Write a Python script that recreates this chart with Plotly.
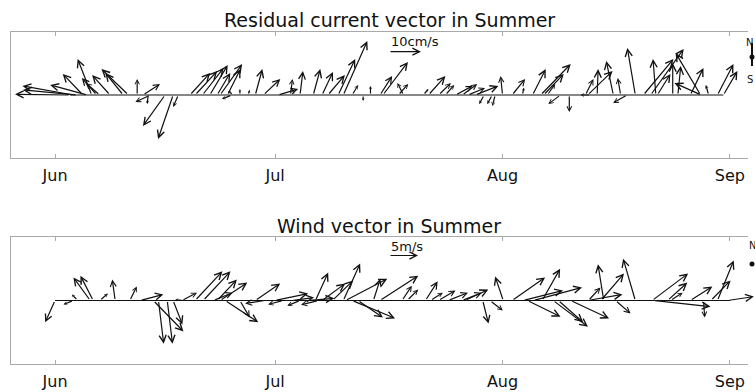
import math
import plotly.graph_objects as go

# ---- data -------------------------------------------------------------
# Residual current: day of year, east (u) and north (v) components, cm/s
cur_day = [154.05, 154.5, 155.0, 155.8, 156.4, 157.0, 157.7, 158.1, 159.5, 161.3,
           162.0, 163.2, 164.0, 164.7, 165.0, 167.0, 168.1, 168.8, 170.4, 171.1,
           172.1, 173.1, 174.1, 174.5, 175.5, 176.1, 176.3, 177.2, 178.3, 179.3,
           180.4, 182.4, 184.1, 184.7, 185.4, 187.2, 188.4, 189.2, 190.6, 191.3,
           192.5, 194.0, 195.0, 196.3, 196.7, 198.8, 199.5, 202.2, 202.9, 204.3,
           205.2, 206.6, 207.5, 208.3, 209.3, 210.5, 211.6, 212.0, 213.0, 214.3,
           215.7, 217.1, 218.2, 218.6, 219.1, 220.9, 222.1, 224.3, 224.6, 225.0,
           225.9, 228.1, 229.1, 230.0, 231.1, 232.2, 233.2, 233.9, 234.1, 236.2,
           236.9, 238.6, 240.0, 240.1, 241.1, 242.3, 243.1]
cur_u = [-17.2, -15.9, -16.9, -6.3, -11.6, -4.4, -4.7, -4.4, -5.6, -5.6,
         -8.4, 0.0, 5.3, -0.3, -4.7, -6.9, -4.7, -1.6, 6.3, 6.9,
         6.6, 5.6, 4.1, 6.9, 4.1, -3.1, -1.6, 0.0, 0.6, 2.2,
         5.3, 6.3, 0.6, -1.3, 0.9, 2.2, 3.4, 5.3, 5.3, 7.5,
         1.9, 0.0, 0.0, 3.8, 7.8, 3.1, -1.9, 1.6, 5.3, 3.8,
         2.8, 5.3, 4.7, 5.3, 7.2, -1.6, -1.6, -0.9, -0.6, 4.1,
         0.5, 4.1, 9.4, 6.3, 2.5, -3.8, 0.0, 2.5, 7.8, -3.1,
         0.3, -2.2, -0.9, -4.4, -2.5, 9.4, 10.3, -0.9, 4.1, 0.0,
         0.9, 4.1, -7.8, -8.4, -0.9, 5.0, 4.4]
cur_v = [0.3, 3.8, 2.1, 8.8, 4.2, 15.0, 7.1, 5.0, 8.3, 9.2,
         10.8, 6.7, 4.6, -3.8, -2.9, -12.9, -18.3, -5.0, 9.2, 10.0,
         11.3, 12.5, 9.2, 12.9, 10.8, -1.7, 1.7, 2.5, 2.1, 10.8,
         6.7, 2.5, 6.7, 3.3, 10.0, 10.8, 9.6, 8.3, 15.0, 22.5,
         4.2, -2.5, 3.8, 7.9, 13.8, 4.6, 5.0, 2.5, 7.9, 5.0,
         4.2, 3.8, 4.6, 2.9, 3.8, -3.8, -3.8, -4.6, 7.9, 6.7,
         3.0, 10.8, 12.9, 8.8, 4.6, -3.8, -7.1, 6.7, 10.0, 0.0,
         10.8, 14.2, 7.1, -3.3, 19.6, 15.0, 19.2, 15.0, 8.8, 13.3,
         12.1, 11.3, 17.5, 5.0, 4.2, 12.9, 10.0]

# Wind: day of year, east (u) and north (v) components, m/s
wind_day = [152.0, 154.5, 155.1, 156.8, 157.2, 158.1, 160.2, 161.5, 162.2, 163.6,
            165.4, 166.1, 167.3, 168.1, 169.3, 169.5, 171.1, 172.2, 173.6, 174.1,
            174.5, 175.2, 177.2, 179.3, 180.6, 182.0, 183.1, 184.3, 185.4, 186.5,
            187.5, 187.9, 188.4, 189.8, 191.3, 191.6, 192.5, 193.3, 195.4, 196.3,
            199.3, 200.0, 202.5, 203.2, 204.3, 205.6, 207.5, 207.9, 210.3, 211.3,
            213.1, 214.3, 215.8, 216.4, 217.2, 218.4, 219.9, 220.6, 222.3, 224.6,
            224.7, 226.4, 226.8, 228.4, 231.1, 233.4, 233.6, 235.5, 235.9, 238.6,
            240.4, 241.4, 242.3, 243.7]
wind_u = [-1.7, -1.7, -1.0, -2.9, -2.2, 1.4, -0.5, 0.2, 1.2, 4.0,
          5.2, 0.9, 0.9, 1.6, 2.6, -1.4, 4.7, 4.7, 3.3, 3.4,
          4.7, 5.7, 1.7, 4.3, -3.4, 5.7, -2.6, 3.8, -2.2, 4.5,
          2.2, -3.0, 4.0, 3.6, 2.9, 7.2, 7.4, 4.3, 1.2, 6.6,
          1.7, 1.9, 2.1, 2.1, 2.9, 3.4, 3.4, 4.0, 1.0, 2.2,
          -1.4, 5.7, 6.9, 5.7, 8.4, 3.1, 6.0, 4.3, 6.6, 6.0,
          2.1, 4.0, -1.0, 2.6, -2.1, 6.2, 9.8, 3.4, 2.1, 3.8,
          0.2, 3.4, 2.8, 4.5]
wind_v = [-5.0, -0.9, 1.4, 5.3, 5.7, 1.6, 4.8, -0.2, 3.2, 1.4,
          -7.1, -9.9, -9.9, -5.5, 1.8, 0.2, 6.7, 6.7, 1.8, 4.8,
          4.1, -5.0, -3.9, 3.9, -0.7, 1.6, -0.9, 0.7, -1.2, 0.5,
          6.4, -1.0, 3.9, 4.6, 8.5, 5.0, -4.1, -3.9, 5.0, 5.7,
          3.4, 2.5, 4.4, 1.8, 2.3, 1.8, 1.8, 2.5, -5.3, -2.3,
          5.5, 5.3, 2.3, -3.7, 3.0, 7.3, -6.0, -5.0, -4.1, 1.4,
          3.0, 6.2, 8.3, -3.0, 9.6, 6.2, -1.4, 4.1, 1.8, 3.2,
          -3.9, 4.6, 9.2, 0.9]

month_ticks = [152, 182, 213, 244]
month_labels = ["Jun", "Jul", "Aug", "Sep"]

cur_ref = 10      # reference arrow, cm/s
wind_ref = 5      # reference arrow, m/s

# ---- layout geometry --------------------------------------------------
W, H = 755, 392
ML, MR, MT, MB = 11, 7, 32, 28
plot_w = W - ML - MR
plot_h = H - MT - MB
x_range = [146.0, 246.46]
px_per_day = plot_w / (x_range[1] - x_range[0])

top_dom = [(H - MB - 158) / plot_h, 1.0]
bot_dom = [0.0, (H - MB - 237) / plot_h]
top_h = (top_dom[1] - top_dom[0]) * plot_h
bot_h = (bot_dom[1] - bot_dom[0]) * plot_h

# stick scaling: pixels per unit horizontally / vertically
cur_px_u, cur_px_v = 3.2, 2.4
wind_px_u, wind_px_v = 5.8, 4.36
cur_yr = top_h / 2 / cur_px_v
wind_yr = bot_h / 2 / wind_px_v

FONT = "DejaVu Sans"
INK = "#111111"
AX = "#a9a9a9"


def px_to_paper(px, py):
    return (px - ML) / plot_w, (H - MB - py) / plot_h


def sticks(days, u, v, xr, yr, px_u, px_v):
    days_per_unit = px_u / px_per_day
    out = []
    for t, uu, vv in zip(days, u, v):
        length = math.hypot(uu * px_u, vv * px_v)
        head = min(7.5, max(2.4, 0.3 * length))
        out.append(dict(
            x=t + uu * days_per_unit, y=vv, ax=t, ay=0,
            xref=xr, yref=yr, axref=xr, ayref=yr,
            text="", showarrow=True, arrowhead=5,
            arrowsize=max(0.3, head / 6.5), arrowwidth=1.2,
            arrowcolor=INK, standoff=0, startstandoff=0))
    return out


fig = go.Figure()

# zero lines the vectors hang from
fig.add_trace(go.Scatter(x=[cur_day[0], cur_day[-1]], y=[0, 0], mode="lines",
                         line=dict(color=INK, width=1.2), xaxis="x", yaxis="y",
                         hoverinfo="skip", showlegend=False))
fig.add_trace(go.Scatter(x=[month_ticks[0], month_ticks[-1]], y=[0, 0], mode="lines",
                         line=dict(color=INK, width=1.2), xaxis="x2", yaxis="y2",
                         hoverinfo="skip", showlegend=False))

ann = []
ann += sticks(cur_day, cur_u, cur_v, "x", "y", cur_px_u, cur_px_v)
ann += sticks(wind_day, wind_u, wind_v, "x2", "y2", wind_px_u, wind_px_v)

# reference arrows with their labels
ref_day = x_range[0] + (389 - ML) / px_per_day
cur_ref_y = (94.3 - 51) / cur_px_v
wind_ref_y = (301 - 256) / wind_px_v
ann += sticks([ref_day], [cur_ref], [cur_ref_y], "x", "y", cur_px_u, 0)
ann[-1].update(ay=cur_ref_y)
ann += sticks([ref_day], [wind_ref], [wind_ref_y], "x2", "y2", wind_px_u, 0)
ann[-1].update(ay=wind_ref_y)
ann.append(dict(x=ref_day, y=(94.3 - 41) / cur_px_v, xref="x", yref="y",
                text=f"{cur_ref}cm/s", showarrow=False, xanchor="left",
                yanchor="middle", font=dict(family=FONT, size=13, color=INK)))
ann.append(dict(x=ref_day, y=(301 - 247) / wind_px_v, xref="x2", yref="y2",
                text=f"{wind_ref}m/s", showarrow=False, xanchor="left",
                yanchor="middle", font=dict(family=FONT, size=13, color=INK)))

# panel titles
for title, py in [("Residual current vector in Summer", 20),
                  ("Wind vector in Summer", 226)]:
    tx, ty = px_to_paper(389, py)
    ann.append(dict(x=tx, y=ty, xref="paper", yref="paper", text=title,
                    showarrow=False, xanchor="center", yanchor="middle",
                    font=dict(family=FONT, size=19, color=INK)))

# north indicator at the right edge
for txt, px, py in [("N", 755, 35), ("S", 755, 72), ("N", 758, 245)]:
    tx, ty = px_to_paper(px, py)
    ann.append(dict(x=tx, y=ty, xref="paper", yref="paper", text=txt,
                    showarrow=False, font=dict(family=FONT, size=10, color=INK)))

shapes = []
x0, y0 = px_to_paper(752, 43)
x1, y1 = px_to_paper(752, 66)
shapes.append(dict(type="line", xref="paper", yref="paper", x0=x0, y0=y0,
                   x1=x1, y1=y1, line=dict(color=INK, width=2)))
for cy in (57, 264):
    a0, b0 = px_to_paper(749.5, cy - 2.5)
    a1, b1 = px_to_paper(754.5, cy + 2.5)
    shapes.append(dict(type="circle", xref="paper", yref="paper", x0=a0, y0=b0,
                       x1=a1, y1=b1, fillcolor=INK, line=dict(width=0)))

xax = dict(range=x_range, tickvals=month_ticks, ticktext=month_labels,
           ticks="inside", ticklen=4, tickcolor=AX, tickwidth=1,
           showline=True, linecolor=AX, linewidth=1, mirror="ticks",
           showgrid=False, zeroline=False, ticklabelstandoff=3,
           automargin=False,
           tickfont=dict(family=FONT, size=16, color=INK))
yax = dict(showticklabels=False, ticks="", showline=True, linecolor=AX,
           linewidth=1, mirror=False, showgrid=False, zeroline=False,
           automargin=False)

fig.update_layout(
    width=W, height=H,
    margin=dict(l=ML, r=MR, t=MT, b=MB, pad=0, autoexpand=False),
    paper_bgcolor="white", plot_bgcolor="white",
    showlegend=False,
    xaxis=dict(xax, domain=[0, 1], anchor="y"),
    yaxis=dict(yax, domain=top_dom, range=[-cur_yr, cur_yr], anchor="x"),
    xaxis2=dict(xax, domain=[0, 1], anchor="y2"),
    yaxis2=dict(yax, domain=bot_dom, range=[-wind_yr, wind_yr], anchor="x2"),
    annotations=ann, shapes=shapes,
)

fig.write_html("out.html")
